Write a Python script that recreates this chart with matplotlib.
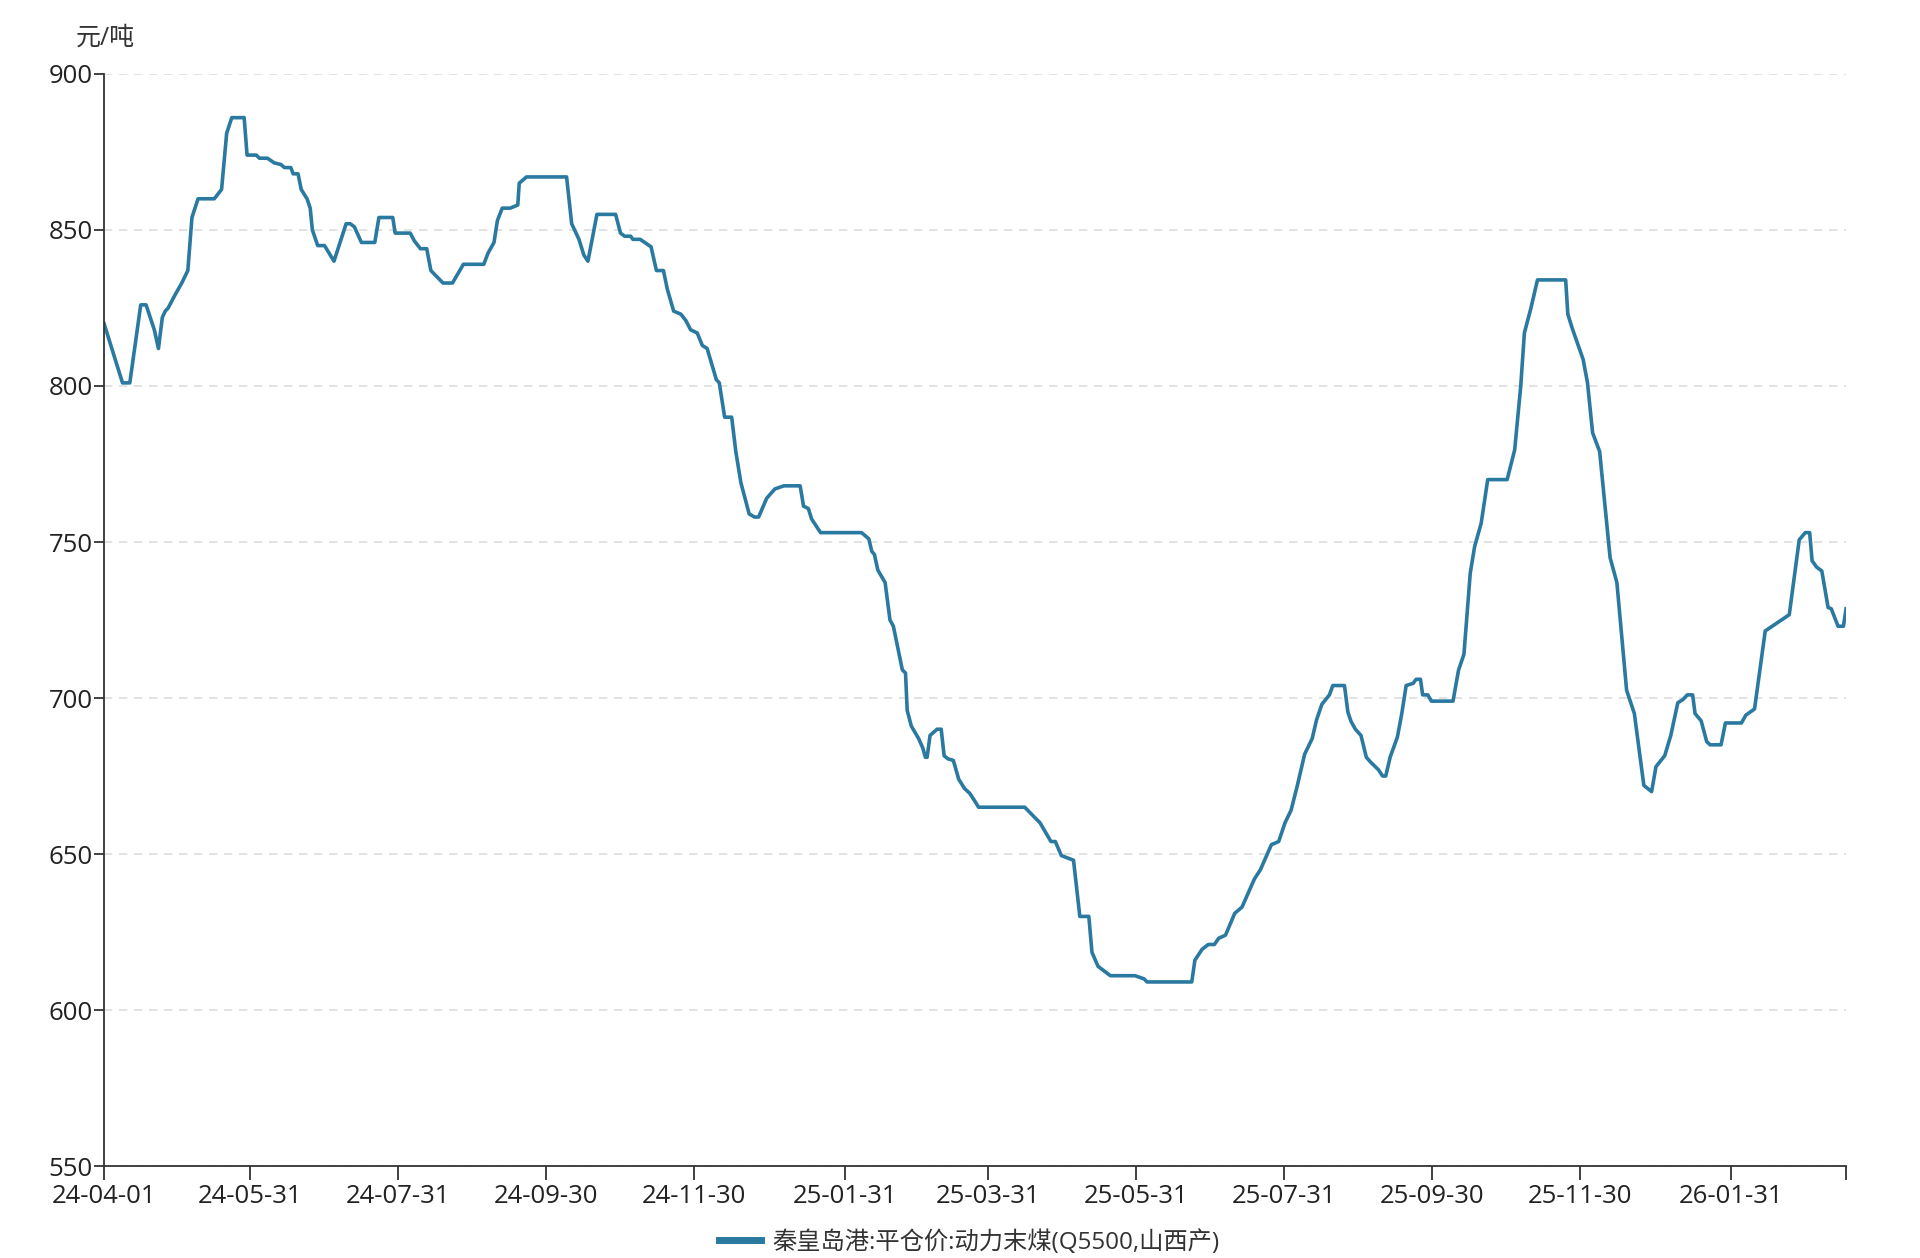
import matplotlib
matplotlib.use("Agg")
import matplotlib.pyplot as plt
import matplotlib.dates as mdates
import pandas as pd

plt.rcParams['font.family'] = ['Open Sans', 'Noto Sans CJK SC', 'DejaVu Sans']

# data: days after start date and price (元/吨)
start_date = '2024-04-01'
day_offsets = [
    0, 7.6, 10.6, 15.1, 17.3, 20.7, 22.4, 24, 25.2, 26.4, 29.1, 32, 34.5, 36.2, 38.7,
    45.4, 48.4, 50.5, 52.6, 57.7, 58.9, 62.7, 64, 67.3, 70.1, 72.8, 74.3, 76.9, 77.9,
    79.9, 81.2, 83.6, 84.9, 85.8, 88, 90.8, 94.7, 99.7, 101.4, 103.1, 106, 111.5,
    113.2, 118.9, 119.9, 126.1, 127.8, 130.3, 132.9, 134.6, 139.6, 143.5, 148, 156.4,
    158.1, 160.6, 162, 164, 167.3, 170.4, 171, 174, 190.5, 192.6, 195.6, 197.6, 199.3,
    203, 210.7, 212.7, 214.4, 216.9, 217.8, 220.8, 225.3, 227.5, 230.4, 232, 234.6,
    237.6, 239.6, 241.6, 244.3, 246.4, 248.4, 252.2, 253.4, 255.6, 258.5, 260.2,
    262.3, 265.7, 267.9, 269.6, 272.9, 276.3, 280, 286.7, 288.1, 290.1, 291.4, 295.1,
    312, 315, 316.2, 317.3, 318.7, 321.7, 323.7, 325.1, 328.8, 330.1, 330.8, 332.5,
    335.5, 337.2, 338.3, 339, 340.2, 343.1, 344.8, 346, 347.6, 349.8, 352, 354.4,
    356.5, 358.2, 360.2, 379.2, 381.7, 385.5, 390, 391.8, 394.3, 399.3, 401.9, 405.6,
    406.9, 409.4, 414.5, 424.6, 428.3, 429.6, 448, 449.3, 452.3, 454.8, 457.3, 459.1,
    461.9, 465.7, 468.7, 473.8, 476.3, 480.8, 483.8, 486.4, 488.9, 491.5, 494.5,
    497.6, 499.4, 501.6, 504.7, 506.1, 510.9, 512.3, 513.6, 515.4, 517.7, 519.9,
    521.6, 524.9, 526.6, 527.9, 529.7, 532.7, 534.5, 536.3, 539.2, 540.4, 542.2,
    543.1, 545.2, 546.7, 555.6, 557.9, 560.1, 562.7, 564.5, 567.2, 569.9, 577.9, 581,
    583.5, 585, 587.7, 590.4, 602, 602.9, 604.7, 609.2, 611, 613.1, 616, 620.3,
    623.1, 627.1, 630.3, 634.2, 637.4, 639.2, 642.8, 645.3, 648.2, 650.3, 652.1,
    654.3, 655.3, 657.8, 660.1, 661.5, 666, 667.8, 674.4, 676.2, 679.8, 684.2, 694.1,
    698.2, 700.7, 702.5, 703.5, 705.3, 707.5, 710.1, 711.4, 714.2, 716.4, 717.5,
]
prices = [
    820, 801, 801, 826, 826, 818, 812, 822, 824, 825, 829, 833, 837, 854, 860,
    860, 863, 881, 886, 886, 874, 874, 873, 873, 871.5, 871, 870, 870, 868,
    868, 863, 860, 857, 850, 845, 845, 840, 852, 852, 851, 846, 846,
    854, 854, 849, 849, 846.5, 844, 844, 837, 833, 833, 839, 839,
    842.5, 846, 853, 857, 857, 858, 865, 867, 867, 852, 847, 842, 840,
    855, 855, 849, 848, 848, 847, 847, 844.6, 837, 837, 831, 824,
    823, 821, 818, 817, 813, 812, 802, 801, 790, 790, 779,
    769, 759, 758, 758, 764, 767, 768, 768, 761.5, 760.7, 757.4, 753,
    753, 751, 747, 746, 741, 737, 725, 723, 709, 708, 696, 691,
    687, 684, 681, 681, 688, 690, 690, 681.5, 680.5, 680, 674, 671,
    669.5, 667.5, 665, 665, 663, 660, 654, 654, 649.5, 648, 630, 630,
    618.5, 614, 611, 611, 610, 609, 609, 616, 619.5, 621, 621, 623,
    624, 631, 633, 642, 645, 653, 654, 660, 664, 672, 682,
    687, 693, 698, 701, 704, 704, 695.5, 692.5, 690, 688, 681,
    679.5, 677, 675, 675, 681, 687.5, 695, 704, 704.7, 706, 706,
    701, 701, 699, 699, 709, 714, 740, 748.5, 756, 770, 770, 779.5,
    800, 817, 825, 834, 834, 823, 818.5, 808.5, 801, 785, 779, 745,
    737, 702.5, 695, 672, 670, 678, 681.5, 688, 698.5, 699.5, 701,
    701, 695, 692.7, 686, 685, 685, 692, 692, 694.5, 696.5, 721.5, 726.7,
    750.7, 753, 753, 744, 742, 740.7, 729, 728.6, 723, 723, 728.6,
]
tick_dates = ['2024-04-01', '2024-05-31', '2024-07-31', '2024-09-30', '2024-11-30',
              '2025-01-31', '2025-03-31', '2025-05-31', '2025-07-31', '2025-09-30',
              '2025-11-30', '2026-01-31']
y_ticks = [550, 600, 650, 700, 750, 800, 850, 900]
series_name = '秦皇岛港:平仓价:动力末煤(Q5500,山西产)'
unit_label = '元/吨'

dates = pd.Timestamp(start_date) + pd.to_timedelta(day_offsets, unit='D')

fig = plt.figure(figsize=(19.2, 12.58), dpi=100)
ax = fig.add_axes([0.0542, 0.0731, 0.9073, 0.8681])

line_color = '#2a79a0'
axis_color = '#333333'

ax.plot(dates, prices, color=line_color, linewidth=2.6, label=series_name,
        solid_joinstyle='round')

ax.set_ylim(550, 900)
ax.set_yticks(y_ticks)
ax.set_xlim(dates[0], dates[-1])
ticks = list(pd.to_datetime(tick_dates))
ax.set_xticks(ticks)
ax.xaxis.set_major_formatter(mdates.DateFormatter('%y-%m-%d'))
ax.set_xticks([dates[-1]], minor=True)

ax.grid(axis='y', color='#dddddd', linestyle=(0, (5, 4)), linewidth=1.2)
ax.grid(axis='x', visible=False)
for side in ['top', 'right']:
    ax.spines[side].set_visible(False)
for side in ['left', 'bottom']:
    ax.spines[side].set_color(axis_color)
    ax.spines[side].set_linewidth(1.3)

ax.tick_params(axis='y', length=7, width=1.3, color=axis_color, labelsize=18.5,
               labelcolor='#222222', pad=1)
ax.tick_params(axis='x', which='both', length=10, width=1.3, color=axis_color,
               labelsize=18.5, labelcolor='#222222', pad=3)

fig.text(0.055, 0.970, unit_label, ha='center', va='center', fontsize=18, color='#333333')

fig.legend(loc='center', bbox_to_anchor=(0.505, 0.0125), frameon=False, fontsize=17.5,
           handlelength=1.7, handletextpad=0.5, labelcolor='#333333')
for h in fig.legends[0].get_lines():
    h.set_linewidth(5)

fig.savefig('out.png', dpi=100)
